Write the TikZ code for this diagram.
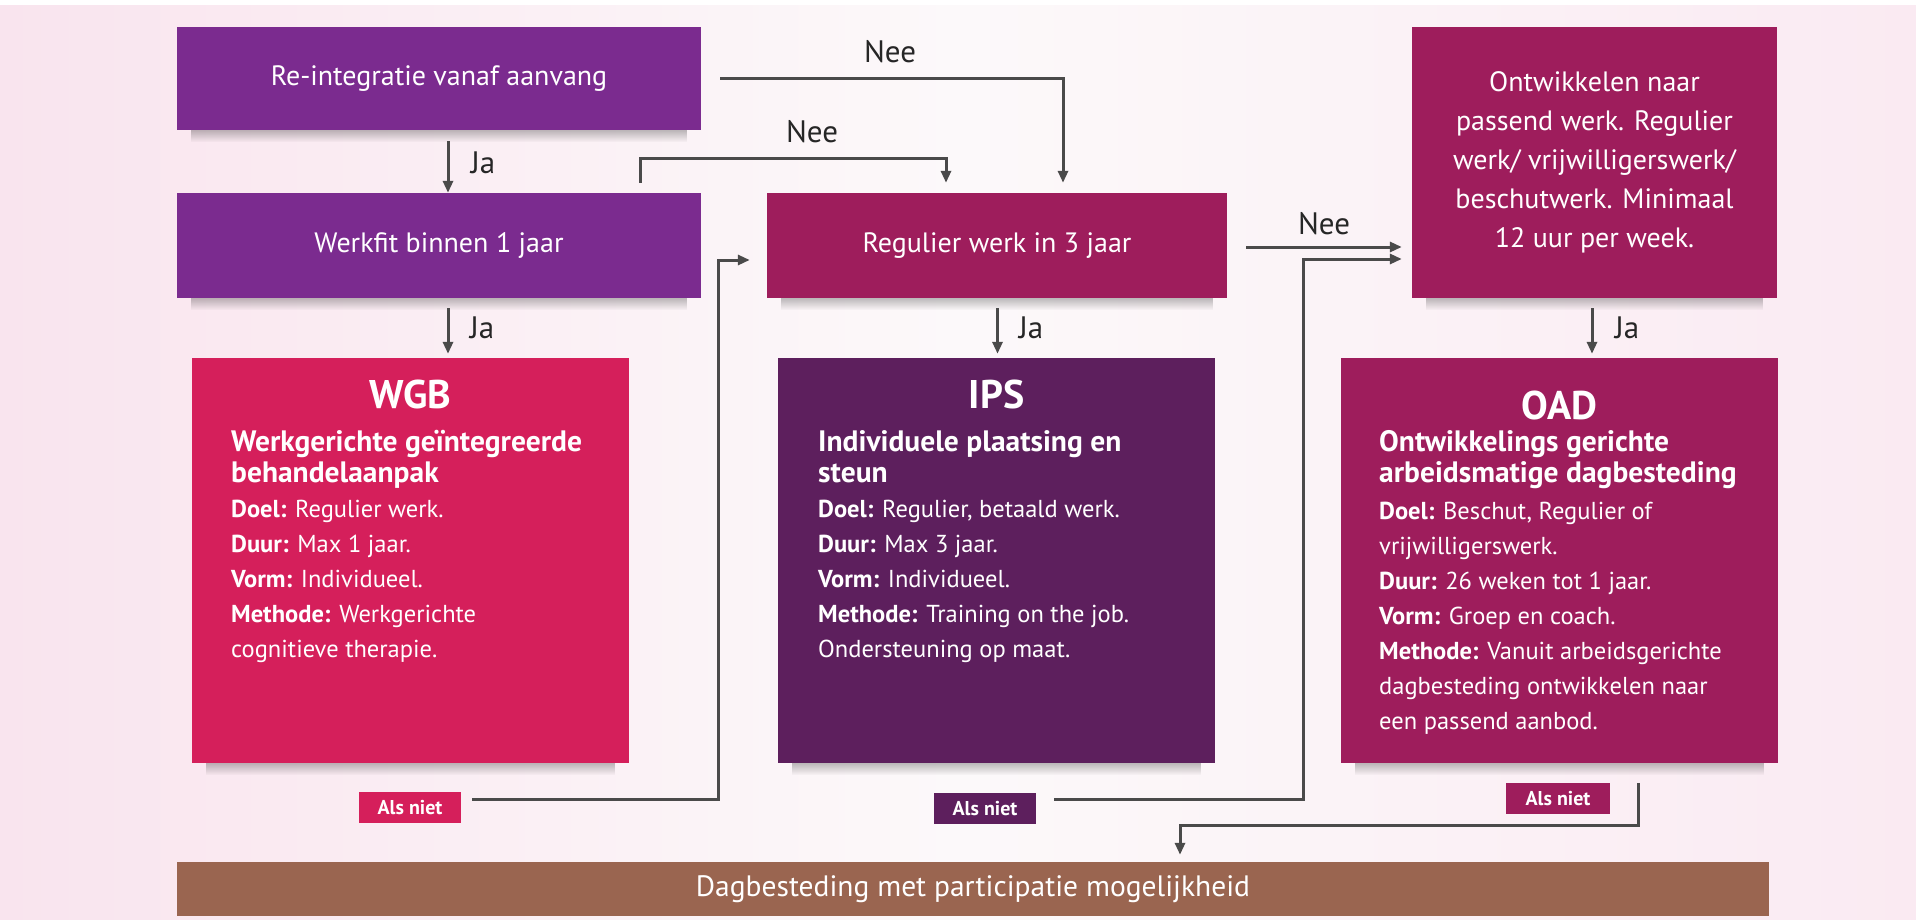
\documentclass[tikz,border=0pt]{standalone}
\usepackage{fontspec}
\setmainfont{PT Sans}
\usetikzlibrary{arrows.meta,fadings}
\definecolor{cpurple}{HTML}{7B2B8F}
\definecolor{cmag}{HTML}{9E1D5C}
\definecolor{cwgb}{HTML}{D51F5B}
\definecolor{cips}{HTML}{5D1F5D}
\definecolor{cdag}{HTML}{9A6550}
\definecolor{carrow}{HTML}{4A4A4A}
\definecolor{bgl}{HTML}{F9E4EE}
\definecolor{bgm}{HTML}{FCF9FA}
\definecolor{bgr}{HTML}{FAEAF2}
\newcommand\fbx{\fontsize{28}{39}\selectfont}
\newcommand\fdag{\fontsize{29.5}{32}\selectfont}
\newcommand\fttl{\fontsize{40}{44}\selectfont\bfseries}
\newcommand\fsub{\fontsize{29.5}{31.5}\selectfont\bfseries}
\newcommand\fbody{\fontsize{24.5}{35}\selectfont}
\newcommand\fals{\fontsize{20}{22}\selectfont\bfseries}
\newcommand\flab{\fontsize{31}{34}\selectfont}
\tikzset{
  box/.style={rectangle, inner sep=0pt, draw=none, text=white},
  txt/.style={inner sep=0pt, text=white, anchor=north west, align=left},
  arr/.style={draw=carrow, line width=3pt, -{Triangle[length=12pt,width=10pt]}},
  lab/.style={inner sep=0pt, text=black!85, font=\flab},
  shadowbox/.style={black, opacity=0.25, path fading=south}
}
\begin{document}
\begin{tikzpicture}[x=1pt,y=-1pt]
\shade[left color=bgl, right color=bgr, middle color=bgm] (0,0) rectangle (1916,920);
\fill[white] (0,0) rectangle (1916,5);
\useasboundingbox (0,0) rectangle (1916,920);

% top row
\node[box, fill=cpurple, minimum width=524pt, minimum height=103pt, font=\fbx] (re) at (439,78.5) {Re-integratie vanaf aanvang};
\node[box, fill=cpurple, minimum width=524pt, minimum height=105pt, font=\fbx] (wf) at (439,245.5) {Werkfit binnen 1 jaar};
\node[box, fill=cmag, minimum width=460pt, minimum height=105pt, font=\fbx] (rw) at (997,245.5) {Regulier werk in 3 jaar};
\node[box, fill=cmag, minimum width=365pt, minimum height=271pt, font=\fbx, align=center] (ow) at (1594.5,162.5) {Ontwikkelen naar\\passend werk. Regulier\\werk/ vrijwilligerswerk/\\beschutwerk. Minimaal\\12 uur per week.};

% big boxes
\node[box, fill=cwgb, minimum width=437pt, minimum height=405pt] (wgb) at (410.5,560.5) {};
\node[box, fill=cips, minimum width=437pt, minimum height=405pt] (ips) at (996.5,560.5) {};
\node[box, fill=cmag, minimum width=437pt, minimum height=405pt] (oad) at (1559.5,560.5) {};

\node[inner sep=0pt, text=white, font=\fttl] (wgbt) at (410.5,394) {WGB};
\node[inner sep=0pt, text=white, font=\fttl] (ipst) at (996.5,394) {IPS};
\node[inner sep=0pt, text=white, font=\fttl] (oadt) at (1559.5,405) {OAD};

\node[txt, font=\fsub] (wgbs) at (231,430) {Werkgerichte geïntegreerde\\behandelaanpak};
\node[txt, font=\fsub] (ipss) at (818,430) {Individuele plaatsing en\\steun};
\node[txt, font=\fsub] (oads) at (1379,430) {Ontwikkelings gerichte\\arbeidsmatige dagbesteding};

\node[txt, font=\fbody] (wgbb) at (231,500) {\textbf{Doel:} Regulier werk.\\\textbf{Duur:} Max 1 jaar.\\\textbf{Vorm:} Individueel.\\\textbf{Methode:} Werkgerichte\\cognitieve therapie.};
\node[txt, font=\fbody] (ipsb) at (818,500) {\textbf{Doel:} Regulier, betaald werk.\\\textbf{Duur:} Max 3 jaar.\\\textbf{Vorm:} Individueel.\\\textbf{Methode:} Training on the job.\\Ondersteuning op maat.};
\node[txt, font=\fbody] (oadb) at (1379,502) {\textbf{Doel:} Beschut, Regulier of\\vrijwilligerswerk.\\\textbf{Duur:} 26 weken tot 1 jaar.\\\textbf{Vorm:} Groep en coach.\\\textbf{Methode:} Vanuit arbeidsgerichte\\dagbesteding ontwikkelen naar\\een passend aanbod.};

% als niet labels
\node[box, fill=cwgb, minimum width=102pt, minimum height=31pt, font=\fals] (als1) at (410,807.5) {Als niet};
\node[box, fill=cips, minimum width=102pt, minimum height=31pt, font=\fals] (als2) at (985,808.5) {Als niet};
\node[box, fill=cmag, minimum width=104pt, minimum height=31pt, font=\fals] (als3) at (1558,798.5) {Als niet};

% bottom bar
\node[box, fill=cdag, minimum width=1592pt, minimum height=54pt, font=\fdag] (dag) at (973,889) {Dagbesteding met participatie mogelijkheid};

% shadows
\foreach \n in {re,wf,rw,ow,wgb,ips,oad}
  \fill[shadowbox] ([xshift=14pt]\n.south west) rectangle ([xshift=-14pt,yshift=-12pt]\n.south east);

% Ja arrows
\coordinate (j1a) at ([xshift=9pt,yshift=-11pt]re.south);
\draw[arr] (j1a) -- (j1a |- wf.north);
\node[lab] (ja1) at (483,163) {Ja};

\coordinate (j2a) at ([xshift=9pt,yshift=-10pt]wf.south);
\draw[arr, shorten >=4pt] (j2a) -- (j2a |- wgb.north);
\node[lab] (ja2) at (482,328) {Ja};

\coordinate (j3a) at ([xshift=0.5pt,yshift=-10pt]rw.south);
\draw[arr, shorten >=4pt] (j3a) -- (j3a |- ips.north);
\node[lab] (ja3) at (1031,328) {Ja};

\coordinate (j4a) at ([xshift=-2.5pt,yshift=-10pt]ow.south);
\draw[arr, shorten >=4pt] (j4a) -- (j4a |- oad.north);
\node[lab] (ja4) at (1627,328) {Ja};

% Nee arrows
\coordinate (n1a) at ([xshift=19pt]re.east);
\coordinate (n1b) at ([xshift=66pt,yshift=10pt]rw.north);
\draw[arr] (n1a) -| (n1b);
\node[lab] (nee1) at (890,52) {Nee};

\coordinate (n2a) at ([xshift=201pt,yshift=10pt]wf.north);
\coordinate (n2c) at ([xshift=201pt,yshift=34pt]wf.north);
\coordinate (n2b) at ([xshift=-51pt,yshift=10pt]rw.north);
\draw[arr] (n2a) -- (n2c) -| (n2b);
\node[lab] (nee2) at (812,132) {Nee};

\coordinate (n3a) at ([xshift=19pt,yshift=-1.5pt]rw.east);
\coordinate (n3b) at ([xshift=-10pt,yshift=-84.5pt]ow.west);
\draw[arr] (n3a) -- (n3b);
\node[lab] (nee3) at (1324,224) {Nee};

% Als niet arrows
\coordinate (a1s) at ([xshift=11pt,yshift=8pt]als1.east);
\coordinate (a1c) at ([xshift=-48pt,yshift=-14.5pt]rw.west);
\coordinate (a1t) at ([xshift=-17pt,yshift=-14.5pt]rw.west);
\draw[arr] (a1s) -| (a1c) -- (a1t);

\coordinate (a2s) at ([xshift=18pt,yshift=9.5pt]als2.east);
\coordinate (a2c) at ([xshift=-108pt,yshift=-96.5pt]ow.west);
\coordinate (a2t) at ([xshift=-10pt,yshift=-96.5pt]ow.west);
\draw[arr] (a2s) -| (a2c) -- (a2t);

\coordinate (a3s) at ([xshift=28pt]als3.north east);
\coordinate (a3m) at ([xshift=207pt,yshift=36pt]dag.north);
\coordinate (a3t) at ([xshift=207pt,yshift=7pt]dag.north);
\draw[arr] (a3s) |- (a3m) -- (a3t);
\end{tikzpicture}
\end{document}
